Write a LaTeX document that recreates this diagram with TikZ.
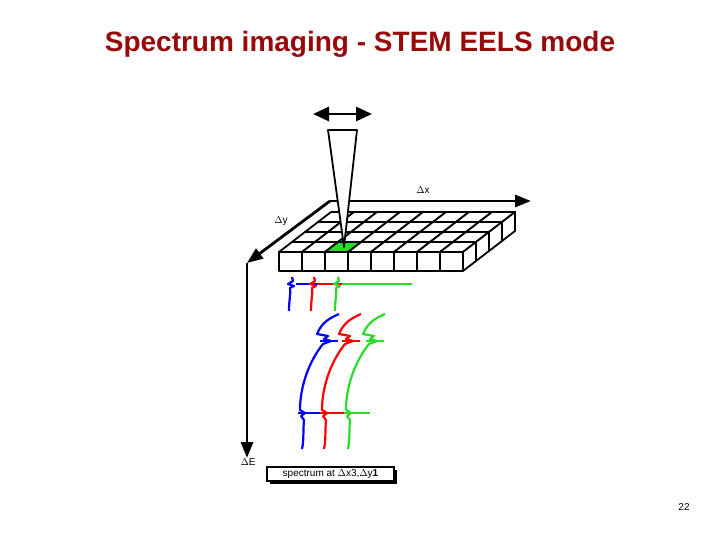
\documentclass[tikz,border=0pt]{standalone}
\usepackage{fontspec}
\setmainfont{Liberation Sans}
\usetikzlibrary{arrows.meta}
\definecolor{titlered}{RGB}{150,10,10}
\definecolor{sgreen}{RGB}{40,220,40}
\begin{document}
\begin{tikzpicture}[x=1pt,y=-1pt,
  ax/.style={line width=2.8pt,-{Triangle[length=16pt,width=12pt]}},
  lbl/.style={font=\fontsize{10}{11}\selectfont,inner sep=1pt},
  cell/.style={line width=1.8pt,fill=white,line join=round},
  sp/.style={line width=2.2pt,line join=round}]
\useasboundingbox (0,0) rectangle (720,540);
\fill[white] (0,0) rectangle (720,540);
% title
\node[font=\bfseries\fontsize{28}{30}\selectfont,text=titlered] (title) at (360,44) {Spectrum imaging - STEM EELS mode};
\node[font=\fontsize{10}{11}\selectfont] (pg) at (684,507) {22};
% axes
\coordinate (o) at (330,201);
\coordinate (xend) at (531,201);
\coordinate (ycorner) at (247,263);
\coordinate (eend) at (247,458);
\draw[ax] (o) -- (xend);
\draw[ax] (o) -- (ycorner);
\draw[line width=2.8pt] (ycorner) -- (247,430);
\draw[ax] (247,428) -- (eend);
\node[lbl] (dx) at (423,190) {$\Delta$x};
\node[lbl] (dy) at (281,221) {$\Delta$y};
\node[lbl] (dE) at (248,462) {$\Delta$E};
% grid block
\def\dxs{13}\def\dys{-10}
\foreach \r in {0,...,3}{
 \foreach \c in {0,...,7}{
  \pgfmathsetmacro\xa{279+23*\c+\dxs*\r}
  \pgfmathsetmacro\ya{252+\dys*\r}
  \draw[cell] (\xa,\ya) -- ++(23,0) -- ++(\dxs,\dys) -- ++(-23,0) -- cycle;
 }}
\draw[cell,fill=sgreen] (325,252) -- ++(23,0) -- ++(13,-10) -- ++(-23,0) -- cycle;
\foreach \c in {0,...,7}{
  \draw[cell] (279+23*\c,252) rectangle ++(23,19);}
\foreach \r in {0,...,3}{
  \draw[cell] (463+\dxs*\r,252+\dys*\r) -- ++(\dxs,\dys) -- ++(0,19) -- ++(-\dxs,-\dys) -- cycle;}
% beam
\draw[cell] (328,130) -- (357,130) -- (344,247) -- cycle;
\draw[line width=2.8pt,{Triangle[length=16pt,width=14pt]}-{Triangle[length=16pt,width=14pt]}] (313,114) -- (372,114);
% spectra
\draw[sp,sgreen] (335,284) -- (412,284);
\foreach \o/\col in {0/blue,22/red,46/sgreen}{
  \begin{scope}[xshift=\o]
  \draw[sp,\col] (289,311) .. controls (289,300) and (291,292) .. (290,288) -- (294,286) -- (288,284) -- (293,281) -- (292,277);
  \draw[sp,\col] (296,284) -- (335,284);
  \draw[sp,\col] (339,314) .. controls (330,318) and (322,322) .. (317,334) -- (328,336) -- (324,339) -- (331,341)
     -- (323,344) .. controls (310,360) and (300,385) .. (300,410) -- (305,413) -- (301,416) -- (304,420) .. controls (303,430) and (304,440) .. (302,449);
  \draw[sp,\col] (320,341) -- (338,341);
  \draw[sp,\col] (298,413) -- (322,413);
  \end{scope}}
\draw[sp,sgreen] (346,413) -- (370,413);
\draw[sp,sgreen] (366,341) -- (381,341);
% label box
\fill[black] (270,470) rectangle (397,484);
\node[draw,line width=1.5pt,fill=white,minimum width=127pt,minimum height=14pt,inner sep=0pt,font=\fontsize{10}{11}\selectfont] (spec) at (330.5,474) {spectrum at $\Delta$x3,$\Delta$y\textbf{1}};
\end{tikzpicture}
\end{document}
